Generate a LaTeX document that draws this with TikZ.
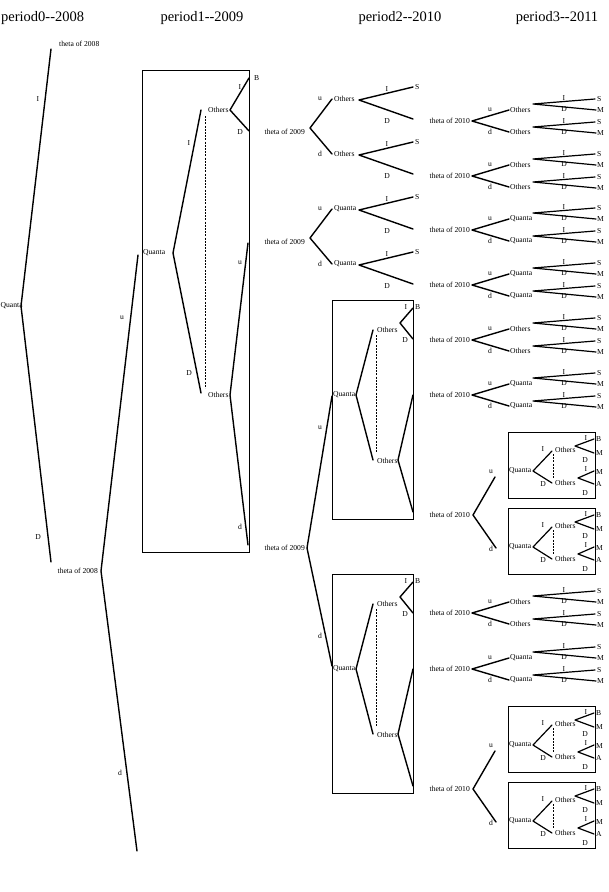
\documentclass[tikz,border=0pt]{standalone}
\usepackage{fontspec}
\setmainfont{Liberation Serif}
\begin{document}
\begin{tikzpicture}[x=1pt,y=-1pt,
  br/.style={line width=1.4pt,line cap=round,line join=round},
  frame/.style={line width=0.9pt},
  dsh/.style={line width=0.8pt,dash pattern=on 2pt off 1.2pt},
  lbl/.style={font=\fontsize{7.6}{8}\selectfont,inner sep=0pt},
  ttl/.style={font=\fontsize{14.5}{16}\selectfont,inner sep=0pt}]
\useasboundingbox[fill=white] (0,0) rectangle (609,892);

% titles
\node[ttl,anchor=west] (p0) at (1,18) {period0-{}-2008};
\node[ttl] (p1) at (202,18) {period1-{}-2009};
\node[ttl] (p2) at (400,18) {period2-{}-2010};
\node[ttl] (p3) at (557,18) {period3-{}-2011};

% ---------- period 0 ----------
\node[lbl,anchor=west] (q0) at (0.5,306) {Quanta};
\coordinate (r0) at (21,306);
\coordinate (t0a) at (51,49);
\coordinate (t0b) at (51,562);
\draw[br] (t0a) -- (r0) -- (t0b);
\node[lbl,anchor=west] (th0a) at (59,44) {theta of 2008};
\node[lbl] (l0I) at (38,99) {I};
\node[lbl] (l0D) at (38,537) {D};
\node[lbl,anchor=east] (th0b) at (98,571) {theta of 2008};
\coordinate (v1) at (101,571);
\coordinate (u1) at (138,255);
\coordinate (d1) at (137,851);
\draw[br] (u1) -- (v1) -- (d1);
\node[lbl] (l0u) at (122,318) {u};
\node[lbl] (l0d) at (120,773) {d};

% ---------- period 1 box ----------
\draw[frame] (142,70) rectangle (249,552);
\node[lbl,anchor=west] (q1) at (143,253) {Quanta};
\coordinate (q1v) at (173,253);
\coordinate (q1u) at (201,110);
\coordinate (q1d) at (201,393);
\draw[br] (q1u) -- (q1v) -- (q1d);
\node[lbl] (l1I) at (189,143) {I};
\node[lbl] (l1D) at (189,373) {D};
\coordinate (ds1a) at (205,116);
\coordinate (ds1b) at (205,388);
\draw[dsh] (ds1a) -- (ds1b);
\node[lbl,anchor=west] (o1u) at (208,110) {Others};
\coordinate (o1uv) at (230,110);
\coordinate (o1B) at (249,78);
\coordinate (o1D) at (249,131);
\draw[br] (o1B) -- (o1uv) -- (o1D);
\node[lbl] (l1uI) at (240,87) {I};
\node[lbl,anchor=west] (l1B) at (254,78) {B};
\node[lbl] (l1uD) at (240,132) {D};
\node[lbl,anchor=west] (o1d) at (208,395) {Others};
\coordinate (o1dv) at (230,395);
\coordinate (o1du) at (248,243);
\coordinate (o1dd) at (248,545);
\draw[br] (o1du) -- (o1dv) -- (o1dd);
\node[lbl] (l1u) at (240,263) {u};
\node[lbl] (l1d) at (240,527) {d};

% ---------- period 2 small trees ----------
\foreach \Y/\C/\k in {132/Others/1,242/Quanta/2} {
  \node[lbl,anchor=east] (th2\k) at (305,\Y) {theta of 2009};
  \coordinate (v2\k) at (310,\Y-4);
  \coordinate (e2u\k) at (332,\Y-33);
  \coordinate (e2d\k) at (332,\Y+22);
  \draw[br] (e2u\k) -- (v2\k) -- (e2d\k);
  \node[lbl] (l2u\k) at (320,\Y-33) {u};
  \node[lbl] (l2d\k) at (320,\Y+22) {d};
  \foreach \c/\m in {\Y-33/u,\Y+22/d} {
    \node[lbl,anchor=west] (c2\k\m) at (334,\c) {\C};
    \coordinate (w2\k\m) at (359,\c+1);
    \coordinate (s2\k\m) at (413,\c-12);
    \coordinate (x2\k\m) at (413,\c+20);
    \draw[br] (s2\k\m) -- (w2\k\m) -- (x2\k\m);
    \node[lbl] (i2\k\m) at (387,\c-10) {I};
    \node[lbl] (dd2\k\m) at (387,\c+22) {D};
    \node[lbl,anchor=west] (ss2\k\m) at (415,\c-12) {S};
  }
}

% ---------- period 2 big tree ----------
\node[lbl,anchor=east] (th2c) at (305,548) {theta of 2009};
\coordinate (v2c) at (307,548);
\coordinate (bqA) at (332,396);
\coordinate (bqB) at (332,666);
\draw[br] (bqA) -- (v2c) -- (bqB);
\node[lbl] (l2cu) at (320,428) {u};
\node[lbl] (l2cd) at (320,636) {d};

\foreach \T/\k in {300/A,574/B} {
  \draw[frame] (332,\T) rectangle (413,\T+219);
  \node[lbl,anchor=west] (bq\k) at (333,\T+95) {Quanta};
  \coordinate (bqv\k) at (356,\T+95);
  \coordinate (bqu\k) at (373,\T+30);
  \coordinate (bqd\k) at (373,\T+160);
  \draw[br] (bqu\k) -- (bqv\k) -- (bqd\k);
  \coordinate (bds\k a) at (376,\T+35);
  \coordinate (bds\k b) at (376,\T+153);
  \draw[dsh] (bds\k a) -- (bds\k b);
  \node[lbl,anchor=west] (bou\k) at (377,\T+30) {Others};
  \node[lbl,anchor=west] (bod\k) at (377,\T+161) {Others};
  \coordinate (bwu\k) at (400,\T+23);
  \coordinate (bwuB\k) at (413,\T+8);
  \coordinate (bwuD\k) at (413,\T+39);
  \draw[br] (bwuB\k) -- (bwu\k) -- (bwuD\k);
  \node[lbl] (bI\k) at (406,\T+7) {I};
  \node[lbl,anchor=west] (bB\k) at (415,\T+7) {B};
  \node[lbl] (bD\k) at (405,\T+40) {D};
  \coordinate (bwd\k) at (398,\T+160);
  \coordinate (bwdu\k) at (413,\T+95);
  \coordinate (bwdd\k) at (413,\T+212);
  \draw[br] (bwdu\k) -- (bwd\k) -- (bwdd\k);
}

% ---------- period 3 small trees ----------
\foreach \Y/\C [count=\i] in {121/Others,176/Others,230/Quanta,285/Quanta,340/Others,395/Quanta,613/Others,669/Quanta} {
  \node[lbl,anchor=east] (th3\i) at (470,\Y) {theta of 2010};
  \coordinate (v3\i) at (472,\Y);
  \coordinate (e3u\i) at (509,\Y-11);
  \coordinate (e3d\i) at (509,\Y+11);
  \draw[br] (e3u\i) -- (v3\i) -- (e3d\i);
  \node[lbl] (l3u\i) at (490,\Y-11) {u};
  \node[lbl] (l3d\i) at (490,\Y+11) {d};
  \node[lbl,anchor=west] (c3u\i) at (510,\Y-11) {\C};
  \node[lbl,anchor=west] (c3d\i) at (510,\Y+11) {\C};
  \foreach \o/\m in {-17/u,6/d} {
    \coordinate (w3\i\m) at (533,\Y+\o);
    \coordinate (s3\i\m) at (595,\Y+\o-5);
    \coordinate (m3\i\m) at (596,\Y+\o+6);
    \draw[br,line width=1.2pt] (s3\i\m) -- (w3\i\m) -- (m3\i\m);
    \node[lbl] (i3\i\m) at (564,\Y+\o-6) {I};
    \node[lbl] (dd3\i\m) at (564,\Y+\o+5) {D};
    \node[lbl,anchor=west] (ss3\i\m) at (597,\Y+\o-5) {S};
    \node[lbl,anchor=west] (mm3\i\m) at (597,\Y+\o+6) {M};
  }
}

% ---------- period 3 boxed trees ----------
\foreach \Y/\k in {515/1,789/2} {
  \node[lbl,anchor=east] (tb\k) at (470,\Y) {theta of 2010};
  \coordinate (tbv\k) at (473,\Y);
  \coordinate (tbu\k) at (495,\Y-38);
  \coordinate (tbd\k) at (496,\Y+33);
  \draw[br] (tbu\k) -- (tbv\k) -- (tbd\k);
  \node[lbl] (tbul\k) at (491,\Y-43) {u};
  \node[lbl] (tbdl\k) at (491,\Y+34) {d};
  \foreach \T/\j in {\Y-83/a,\Y-7/b} {
    \draw[frame] (508,\T) rectangle (595,\T+66);
    \node[lbl,anchor=west] (bq\k\j) at (509,\T+39) {Quanta};
    \coordinate (bv\k\j) at (533,\T+39);
    \coordinate (bu\k\j) at (552,\T+19);
    \coordinate (bd\k\j) at (552,\T+51);
    \draw[br,line width=1.2pt] (bu\k\j) -- (bv\k\j) -- (bd\k\j);
    \node[lbl] (bI\k\j) at (543,\T+17) {I};
    \node[lbl] (bD\k\j) at (543,\T+52) {D};
    \coordinate (bs\k\j a) at (553,\T+22);
    \coordinate (bs\k\j b) at (553,\T+46);
    \draw[dsh] (bs\k\j a) -- (bs\k\j b);
    \node[lbl,anchor=west] (bo1\k\j) at (555,\T+18) {Others};
    \node[lbl,anchor=west] (bo2\k\j) at (555,\T+51) {Others};
    \coordinate (bw1\k\j) at (575,\T+14);
    \coordinate (bw1a\k\j) at (594,\T+7);
    \coordinate (bw1b\k\j) at (594,\T+21);
    \draw[br,line width=1.2pt] (bw1a\k\j) -- (bw1\k\j) -- (bw1b\k\j);
    \node[lbl] (bwI1\k\j) at (586,\T+6) {I};
    \node[lbl] (bwD1\k\j) at (585,\T+28) {D};
    \node[lbl,anchor=west] (bwB\k\j) at (596,\T+7) {B};
    \node[lbl,anchor=west] (bwM1\k\j) at (596,\T+21) {M};
    \coordinate (bw2\k\j) at (578,\T+46);
    \coordinate (bw2a\k\j) at (594,\T+39);
    \coordinate (bw2b\k\j) at (594,\T+52);
    \draw[br,line width=1.2pt] (bw2a\k\j) -- (bw2\k\j) -- (bw2b\k\j);
    \node[lbl] (bwI2\k\j) at (586,\T+37) {I};
    \node[lbl] (bwD2\k\j) at (585,\T+61) {D};
    \node[lbl,anchor=west] (bwM2\k\j) at (596,\T+40) {M};
    \node[lbl,anchor=west] (bwA\k\j) at (596,\T+52) {A};
  }
}
\end{tikzpicture}
\end{document}
